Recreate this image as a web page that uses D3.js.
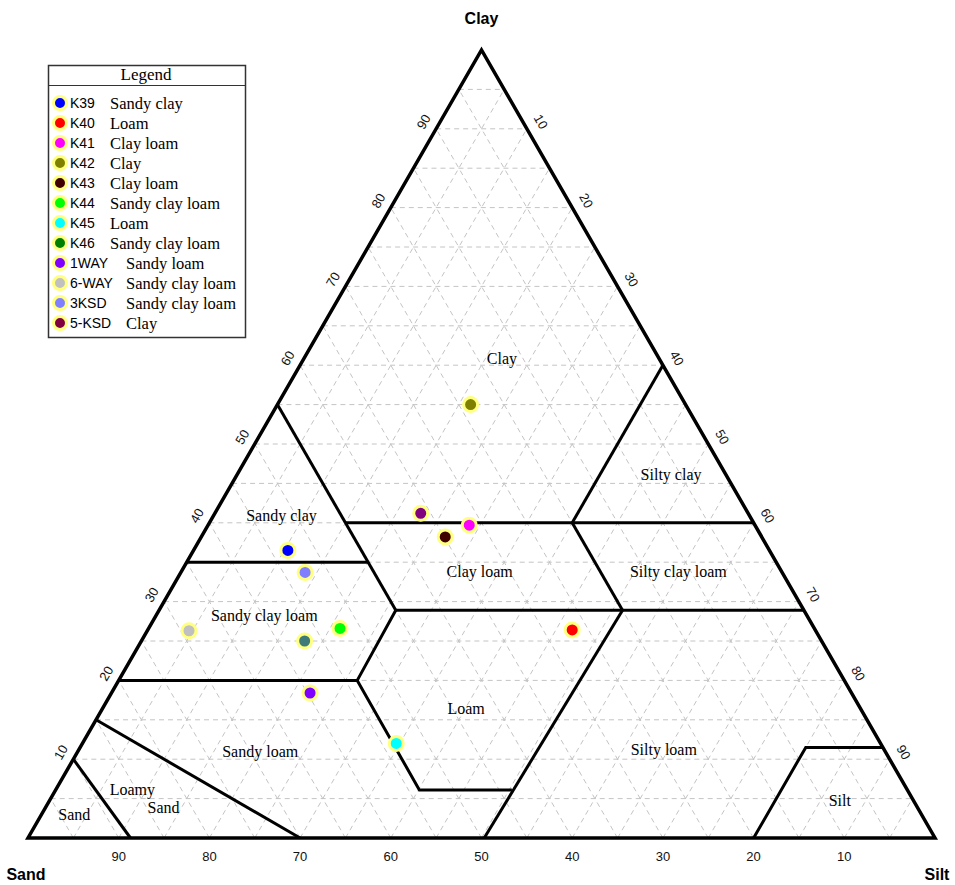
<!DOCTYPE html>
<html>
<head>
<meta charset="utf-8">
<script src="https://cdn.jsdelivr.net/npm/d3@7"></script>
<style>
  html, body { margin: 0; padding: 0; background: #fff; }
  svg { display: block; }
</style>
</head>
<body>
<svg id="chart" width="955" height="885"></svg>
<script>
// ---------------- DATA ----------------
const sampleIds   = ["K39","K40","K41","K42","K43","K44","K45","K46","1WAY","6-WAY","3KSD","5-KSD"];
const sampleClass = ["Sandy clay","Loam","Clay loam","Clay","Clay loam","Sandy clay loam","Loam","Sandy clay loam","Sandy loam","Sandy clay loam","Sandy clay loam","Clay"];
const sampleSand  = [53.1, 26.8, 31.5, 23.7, 34.9, 52.3, 53.4, 56.9, 59.7, 69.1, 52.6, 36.1];
const sampleSilt  = [10.4, 46.8, 28.8, 21.3, 26.9, 21.1, 34.6, 18.0, 21.9,  4.6, 13.7, 22.7];
const sampleClay  = [36.5, 26.4, 39.7, 55.0, 38.2, 26.6, 12.0, 25.0, 18.4, 26.3, 33.7, 41.2];
const legendColors = ["#0000ff","#ff0000","#ff00ff","#808000","#400000","#00ff00","#00ffff","#008000","#8000ff","#c0c0c0","#8080ff","#800040"];
const pointColors  = ["#0000ff","#ff0000","#ff00ff","#808000","#400000","#00ff00","#00ffff","#3d7a78","#8000ff","#c0c0c0","#8080ff","#800080"];

// texture class boundaries, each point as [sand, silt, clay]
const boundaries = [
  [[45,0,55],[45,26.1,28.9]],
  [[65,0,35],[45,20,35]],
  [[45,15,40],[0,60,40]],
  [[20,40,40],[0,40,60]],
  [[20,40,40],[20,51.1,28.9]],
  [[45,26.1,28.9],[0,71.1,28.9]],
  [[45,26.1,28.9],[53.7,26.3,20],[53.8,40.1,6.1],[43.6,50.3,6.1]],
  [[20,51.1,28.9],[49.7,50.3,0]],
  [[80,0,20],[53.7,26.3,20]],
  [[85,0,15],[70,30,0]],
  [[90,0,10],[88.7,11.3,0]],
  [[20,80,0],[8.5,80,11.5],[0,88.5,11.5]]
];

// class labels with anchor [clay, silt]
const classLabels = ["Clay","Silty clay","Sandy clay","Clay loam","Silty clay loam","Sandy clay loam","Loam","Sandy loam","Silty loam","Loamy","Sand","Sand","Silt"];
const classLabelClay = [60.9, 46.2, 40.9, 33.8, 33.8, 28.3, 16.4, 11.0, 11.2, 6.2, 3.9, 3.0, 4.8];
const classLabelSilt = [21.8, 47.8,  7.5, 32.9, 54.8, 11.9, 40.1, 20.1, 64.5, 8.4, 13.0, 3.6, 87.1];

const tickValues = [10,20,30,40,50,60,70,80,90];
const gridValues = d3.range(5, 100, 5);
const axisNames = {top: "Clay", left: "Sand", right: "Silt"};

// ---------------- SCALES ----------------
const svg = d3.select("#chart");
const xS = d3.scaleLinear().domain([0,100]).range([28, 935]);
const yS = d3.scaleLinear().domain([0,100]).range([838, 50]);
function P(sand, silt, clay) { return [xS(silt + clay/2), yS(clay)]; }

const serif = "'Liberation Serif', 'Times New Roman', serif";
const sans = "'Liberation Sans', Arial, sans-serif";

// ---------------- GRID ----------------
const gridG = svg.append("g");
const gridSegs = [];
gridValues.forEach(v => {
  gridSegs.push([P(100-v,0,v), P(0,100-v,v)]);      // clay const
  gridSegs.push([P(100-v,v,0), P(0,v,100-v)]);      // silt const
  gridSegs.push([P(v,100-v,0), P(v,0,100-v)]);      // sand const
});
gridG.selectAll("line").data(gridSegs).join("line")
  .attr("x1", d=>d[0][0]).attr("y1", d=>d[0][1])
  .attr("x2", d=>d[1][0]).attr("y2", d=>d[1][1])
  .attr("stroke", "#c4c4c4").attr("stroke-width", 1)
  .attr("stroke-dasharray", "5,4");

// ---------------- BOUNDARIES ----------------
const line = d3.line();
svg.append("g").selectAll("path").data(boundaries).join("path")
  .attr("d", d => line(d.map(p => P(p[0],p[1],p[2]))))
  .attr("fill","none").attr("stroke","#000").attr("stroke-width",3)
  .attr("stroke-linejoin","miter");

// outline
svg.append("path")
  .attr("d", line([P(100,0,0), P(0,100,0), P(0,0,100)]) + "Z")
  .attr("fill","none").attr("stroke","#000").attr("stroke-width",3.5)
  .attr("stroke-linejoin","miter");

// ---------------- CLASS LABELS ----------------
svg.append("g").selectAll("text").data(classLabels).join("text")
  .attr("x", (d,i) => P(100-classLabelClay[i]-classLabelSilt[i], classLabelSilt[i], classLabelClay[i])[0])
  .attr("y", (d,i) => P(100-classLabelClay[i]-classLabelSilt[i], classLabelSilt[i], classLabelClay[i])[1])
  .attr("dy", "0.35em")
  .attr("text-anchor","middle")
  .attr("font-family", serif)
  .attr("font-size", 16)
  .attr("fill","#000")
  .text(d => d);

// ---------------- TICK LABELS ----------------
const tg = svg.append("g").attr("font-family", sans).attr("font-size", 13).attr("fill","#111");
// left edge: clay
tg.selectAll("text.l").data(tickValues).join("text").attr("class","l")
  .attr("transform", v => { const p = P(100-v,0,v); return `translate(${p[0]-12.5},${p[1]-7}) rotate(-60)`; })
  .attr("text-anchor","middle").attr("dy","0.35em").text(v => v);
// right edge: silt
tg.selectAll("text.r").data(tickValues).join("text").attr("class","r")
  .attr("transform", v => { const p = P(0,v,100-v); return `translate(${p[0]+14},${p[1]-7}) rotate(60)`; })
  .attr("text-anchor","middle").attr("dy","0.35em").text(v => v);
// bottom: sand
tg.selectAll("text.b").data(tickValues).join("text").attr("class","b")
  .attr("x", v => P(100-v, v, 0)[0]).attr("y", P(100,0,0)[1] + 18)
  .attr("text-anchor","middle").attr("dy","0.35em").text(v => 100 - v);

// corner names
const cg = svg.append("g").attr("font-family", sans).attr("font-size", 16).attr("font-weight","bold").attr("fill","#000");
cg.append("text").attr("x", P(0,0,100)[0]).attr("y", 24).attr("text-anchor","middle").text(axisNames.top);
cg.append("text").attr("x", 26).attr("y", 880).attr("text-anchor","middle").text(axisNames.left);
cg.append("text").attr("x", 937).attr("y", 880).attr("text-anchor","middle").text(axisNames.right);

// ---------------- POINTS ----------------
svg.append("g").selectAll("circle").data(sampleIds).join("circle")
  .attr("cx", (d,i) => P(sampleSand[i], sampleSilt[i], sampleClay[i])[0])
  .attr("cy", (d,i) => P(sampleSand[i], sampleSilt[i], sampleClay[i])[1])
  .attr("r", 7)
  .attr("fill", (d,i) => pointColors[i])
  .attr("stroke", "#ffff80").attr("stroke-width", 3);

// ---------------- LEGEND ----------------
const lg = svg.append("g").attr("transform","translate(48,65)");
lg.append("rect").attr("x",0.5).attr("y",0.5).attr("width",197).attr("height",272)
  .attr("fill","#fff").attr("stroke","#333").attr("stroke-width",1.5);
lg.append("line").attr("x1",0.5).attr("x2",197.5).attr("y1",20.5).attr("y2",20.5)
  .attr("stroke","#333").attr("stroke-width",1);
lg.append("text").attr("x",98).attr("y",9.5).attr("dy","0.35em").attr("text-anchor","middle")
  .attr("font-family", serif).attr("font-size",17).text("Legend");
const rows = lg.selectAll("g.row").data(sampleIds).join("g").attr("class","row")
  .attr("transform", (d,i) => `translate(0,${38 + i*20})`);
rows.append("circle").attr("cx",12).attr("cy",0).attr("r",6.5)
  .attr("fill",(d,i)=>legendColors[i]).attr("stroke","#ffff80").attr("stroke-width",3);
rows.append("text").attr("x",22).attr("y",0).attr("dy","0.35em")
  .attr("font-family", sans).attr("font-size",14).text(d => d);
rows.append("text").attr("x", d => d.length > 3 ? 78 : 62).attr("y",0).attr("dy","0.35em")
  .attr("font-family", serif).attr("font-size",16.5)
  .text((d,i) => sampleClass[i]);
</script>
</body>
</html>
